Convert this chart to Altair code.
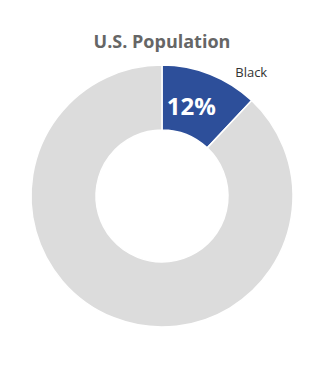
import altair as alt
import pandas as pd

groups = ["Black", "Other"]
shares = [12, 88]
colors = ["#2d4f9a", "#dcdcdc"]
order = [0, 1]

df = pd.DataFrame({"group": groups, "share": shares, "order": order})

base = alt.Chart(df).encode(
    theta=alt.Theta("share:Q", stack=True),
    order=alt.Order("order:Q"),
)

arcs = base.mark_arc(outerRadius=131, innerRadius=66, stroke="white", strokeWidth=1.5).encode(
    color=alt.Color("group:N", scale=alt.Scale(domain=groups, range=colors), legend=None)
)

pct = base.transform_filter(alt.datum.group == "Black").transform_calculate(
    lbl="datum.share + '%'"
).mark_text(radius=96, font="Open Sans", fontWeight="bold", fontSize=24, color="white", dx=-6, dy=1).encode(
    text="lbl:N"
)

name = base.transform_filter(alt.datum.group == "Black").mark_text(
    radius=150, font="Open Sans", fontSize=13, color="#333333", dx=34, dy=16
).encode(text="group:N")

title_df = pd.DataFrame({"t": ["U.S. Population"]})
title = alt.Chart(title_df).mark_text(
    font="Open Sans", fontWeight="bold", fontSize=18, color="#666666"
).encode(text="t:N", x=alt.value(147), y=alt.value(18))

chart = alt.layer(arcs, pct, name, title).properties(
    width=294, height=342, padding={"left": 15, "top": 25, "right": 0, "bottom": 0}
).configure_view(stroke=None)

chart.save("out.html", embed_options={"renderer": "svg", "actions": False})
